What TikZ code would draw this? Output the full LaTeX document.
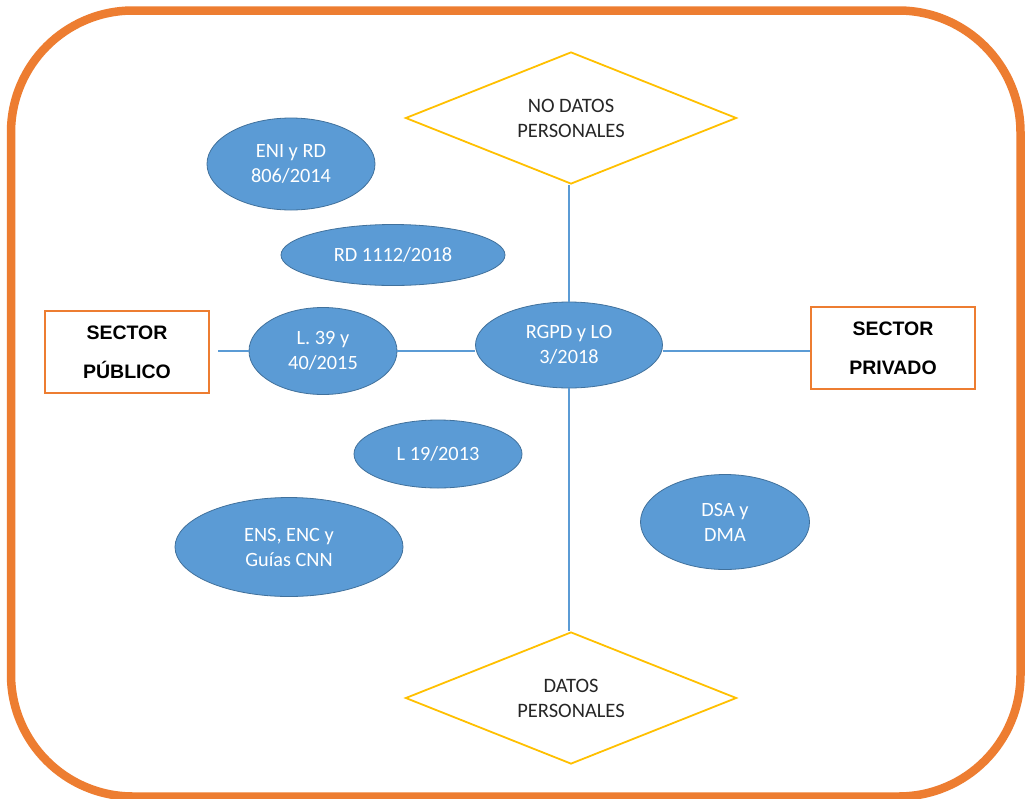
\documentclass[tikz,border=0pt]{standalone}
\usepackage{fontspec}
\setmainfont{Carlito}
\newfontfamily\boxfont{Liberation Sans}
\usetikzlibrary{shapes.geometric}
\definecolor{ellfill}{HTML}{5B9BD5}
\definecolor{elldraw}{HTML}{41719C}
\definecolor{frameor}{HTML}{ED7D31}
\definecolor{diayel}{HTML}{FFC000}
\definecolor{linblue}{HTML}{5B9BD5}
\definecolor{txtdark}{HTML}{262626}
\tikzset{
  ell/.style={ellipse, fill=ellfill, draw=elldraw, line width=0.8pt, inner sep=0pt,
    text=white, align=center, font=\fontsize{20.3}{25}\selectfont},
  dia/.style={diamond, draw=diayel, line width=1.8pt, inner sep=0pt, aspect=2.5,
    minimum width=331pt, minimum height=132pt, text=txtdark, align=center,
    font=\fontsize{20.5}{25}\selectfont},
  sectbox/.style={rectangle, draw=frameor, line width=1.3pt, fill=white,
    minimum width=164pt, minimum height=82pt, inner sep=0pt, align=center,
    font=\boxfont\bfseries\fontsize{19.5}{39}\selectfont},
  conn/.style={draw=linblue, line width=1.4pt},
  frame/.style={draw=frameor, line width=8.5pt, rounded corners=122pt}
}
\begin{document}
\begin{tikzpicture}[x=1pt,y=-1pt]
\useasboundingbox (0,0) rectangle (1030,798);
\fill[white] (0,0) rectangle (1030,798);
\draw[frame] (11,10.5) rectangle (1020.5,796.5);

% diamonds
\node[dia] (nd) at (571,118) {NO DATOS\\PERSONALES};
\node[dia] (dp) at (571,698) {DATOS\\PERSONALES};

% sector boxes
\node[sectbox] (pub) at (127,352) {SECTOR\\PÚBLICO};
\node[sectbox] (priv) at (893,348) {SECTOR\\PRIVADO};

% ellipses
\node[ell, minimum width=187pt, minimum height=86pt] (rg) at (569,345) {RGPD y LO\\3/2018};
\node[ell, minimum width=148pt, minimum height=87pt] (l39) at (323,351) {L. 39 y\\40/2015};
\node[ell, minimum width=168pt, minimum height=92pt] (eni) at (291,164) {ENI y RD\\806/2014};
\node[ell, minimum width=224pt, minimum height=61pt] (rd) at (393,255) {RD 1112/2018};
\node[ell, minimum width=168pt, minimum height=68pt] (l19) at (438,454) {L 19/2013};
\node[ell, minimum width=228pt, minimum height=99pt] (ens) at (289,547) {ENS, ENC y\\Guías CNN};
\node[ell, minimum width=169pt, minimum height=95pt] (dsa) at (725,522) {DSA y\\DMA};

% connectors
\coordinate (lft) at (218,351);
\draw[conn] (lft) -- (l39.west);
\draw[conn] (l39.east) -- (l39 -| rg.west);
\draw[conn] (l39 -| rg.east) -- (l39 -| priv.west);
\draw[conn] (nd.south -| rg.north) -- (rg.north);
\draw[conn] (rg.south) -- (rg.south |- dp.north);
\end{tikzpicture}
\end{document}
